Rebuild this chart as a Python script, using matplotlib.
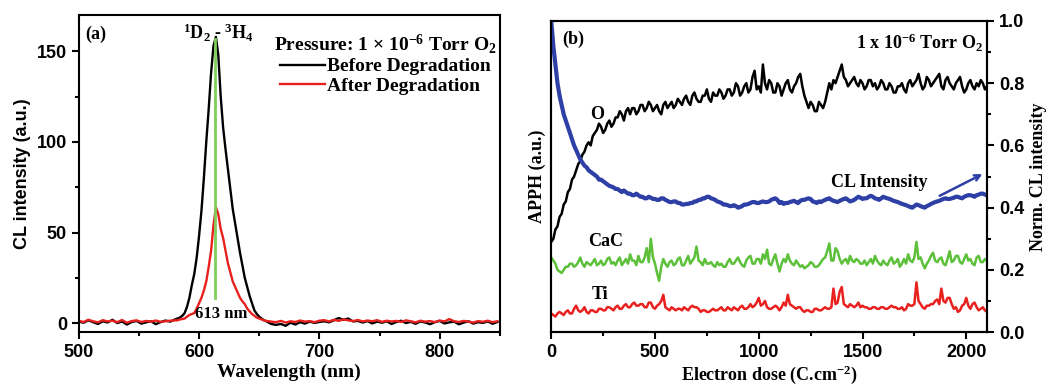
import numpy as np
import matplotlib
matplotlib.use("Agg")
import matplotlib.pyplot as plt
from matplotlib.ticker import MultipleLocator

plt.rcParams['mathtext.fontset'] = 'custom'
plt.rcParams['mathtext.rm'] = 'Liberation Serif:bold'
plt.rcParams['mathtext.it'] = 'Liberation Serif:bold'
plt.rcParams['mathtext.bf'] = 'Liberation Serif:bold'
plt.rcParams['mathtext.default'] = 'rm'

SERIF = 'Liberation Serif'
SANS = 'Liberation Sans'

# ---------------- Panel (a): CL spectra ----------------
wl_low_start, wl_low_step = 500, 4
wl_peak_start, wl_peak_step = 582, 2
wl_high_start, wl_high_step = 664, 4

before_low = [0.8, 0.2, 1.5, 0.5, -0.5, 1.0, 0.3, 1.8, 0.0, 0.9, -0.8, 0.6, 1.2, -0.3,
              0.4, 1.0, -0.6, 0.5, 1.4, 0.8, 2.0]
before_peak = [2.5, 3, 4, 5.5, 9, 14, 21, 27, 36, 48, 62, 80, 100, 118, 138, 153, 158, 148,
               125, 108, 96, 85, 74, 63, 55, 47, 39, 32, 25, 20, 15, 11, 7, 5, 3.5, 2.5, 1.5,
               1.0, 0.2, -0.5]
before_high = [-1.0, -0.5, -1.5, 0.2, -0.8, 0.5, -0.3, 0.8, 0.1, 0.6, 1.0, 0.4, 1.5, 2.8,
               1.8, 2.5, 0.9, 1.2, 0.3, 1.1, -0.2, 0.8, 0.2, 1.0, -0.5, 0.6, 1.3, 0.0, 0.7,
               -0.4, 0.9, 0.3, -0.6, 0.5, 1.2, -0.2, 0.4, 0.8, -0.7, 0.3, 1.0, -0.3, 0.5, 0.1,
               0.9, -0.4, 0.6]

after_low = [1.2, 0.6, 1.8, 1.0, 0.4, 1.6, 0.9, 1.3, 0.5, 1.7, 0.2, 1.1, 1.5, 0.6, 1.2,
             0.8, 1.4, 0.7, 1.0, 1.3, 1.5]
after_peak = [1.5, 2, 2.2, 2.5, 3.5, 4.5, 5, 5.5, 8, 11, 14, 18, 23, 31, 40, 54, 64, 60, 52,
              47, 40, 33, 28, 23, 20, 17, 14, 12, 10.5, 8, 6.5, 5, 4, 3, 2.5, 2, 1.5, 1.2,
              1.0, 0.8]
after_high = [0.5, 1.2, 0.3, 1.0, 0.6, 1.4, 0.8, 1.1, 0.5, 1.3, 1.6, 0.9, 1.8, 1.2, 2.0,
              1.5, 1.1, 1.7, 0.9, 1.4, 1.0, 1.6, 0.7, 1.3, 0.9, 1.2, 0.6, 1.5, 1.0, 0.4,
              1.3, 0.8, 1.1, 0.5, 1.4, 0.9, 2.2, 1.0, 0.6, 1.2, 0.8, 0.3, 1.1, 0.7, 1.3,
              0.5, 1.0]

peak_wl = 613
peak_line_range = [14, 157]

# ---------------- Panel (b): APPH vs dose (0 .. 2100, every 10 C/cm2) ----------------
dose_max = 2100
O_vals = [
    0.29, 0.30, 0.33, 0.34, 0.37, 0.38, 0.41, 0.42, 0.45, 0.46,
    0.49, 0.50, 0.52, 0.54, 0.55, 0.57, 0.58, 0.60, 0.61, 0.60,
    0.63, 0.64, 0.65, 0.67, 0.66, 0.64, 0.65, 0.67, 0.68, 0.66,
    0.67, 0.69, 0.69, 0.71, 0.70, 0.68, 0.71, 0.72, 0.70, 0.72,
    0.72, 0.70, 0.71, 0.73, 0.73, 0.71, 0.72, 0.74, 0.73, 0.71,
    0.72, 0.73, 0.71, 0.70, 0.73, 0.74, 0.72, 0.73, 0.74, 0.72,
    0.73, 0.75, 0.74, 0.73, 0.75, 0.76, 0.74, 0.73, 0.76, 0.77,
    0.75, 0.74, 0.74, 0.76, 0.76, 0.78, 0.75, 0.74, 0.77, 0.76,
    0.76, 0.78, 0.77, 0.75, 0.76, 0.78, 0.78, 0.76, 0.77, 0.80,
    0.79, 0.76, 0.77, 0.79, 0.80, 0.77, 0.78, 0.82, 0.84, 0.78,
    0.79, 0.77, 0.86, 0.80, 0.78, 0.81, 0.80, 0.77, 0.77, 0.80,
    0.79, 0.76, 0.78, 0.80, 0.81, 0.78, 0.77, 0.79, 0.80, 0.82,
    0.83, 0.79, 0.76, 0.74, 0.72, 0.74, 0.73, 0.71, 0.71, 0.74,
    0.73, 0.72, 0.74, 0.77, 0.80, 0.78, 0.81, 0.80, 0.82, 0.84,
    0.86, 0.82, 0.81, 0.79, 0.80, 0.81, 0.82, 0.80, 0.79, 0.81,
    0.80, 0.78, 0.79, 0.81, 0.81, 0.79, 0.80, 0.78, 0.79, 0.81,
    0.80, 0.78, 0.78, 0.80, 0.79, 0.77, 0.77, 0.79, 0.79, 0.80,
    0.78, 0.77, 0.80, 0.81, 0.79, 0.80, 0.81, 0.83, 0.80, 0.78,
    0.79, 0.82, 0.81, 0.79, 0.80, 0.81, 0.82, 0.83, 0.79, 0.78,
    0.81, 0.82, 0.80, 0.79, 0.78, 0.80, 0.81, 0.82, 0.79, 0.77,
    0.78, 0.80, 0.81, 0.79, 0.78, 0.80, 0.79, 0.81, 0.80, 0.78, 0.79]
CL_vals = [
    1.00, 0.92, 0.86, 0.80, 0.76, 0.73, 0.70, 0.68, 0.66, 0.64,
    0.62, 0.60, 0.585, 0.57, 0.555, 0.545, 0.535, 0.53, 0.52, 0.515,
    0.51, 0.505, 0.50, 0.49, 0.49, 0.485, 0.48, 0.475, 0.47, 0.468,
    0.465, 0.46, 0.46, 0.455, 0.45, 0.455, 0.45, 0.445, 0.445, 0.44,
    0.44, 0.445, 0.44, 0.435, 0.435, 0.43, 0.43, 0.435, 0.432, 0.428,
    0.428, 0.425, 0.425, 0.43, 0.43, 0.425, 0.422, 0.418, 0.418, 0.42,
    0.42, 0.415, 0.415, 0.41, 0.41, 0.412, 0.412, 0.415, 0.415, 0.42,
    0.42, 0.425, 0.425, 0.43, 0.43, 0.435, 0.435, 0.43, 0.428, 0.425,
    0.42, 0.418, 0.415, 0.41, 0.41, 0.408, 0.405, 0.405, 0.408, 0.405,
    0.40, 0.402, 0.405, 0.41, 0.41, 0.412, 0.415, 0.418, 0.418, 0.415,
    0.415, 0.418, 0.42, 0.418, 0.418, 0.42, 0.425, 0.428, 0.43, 0.425,
    0.415, 0.418, 0.412, 0.415, 0.415, 0.418, 0.42, 0.422, 0.418, 0.415,
    0.422, 0.425, 0.425, 0.428, 0.43, 0.428, 0.42, 0.418, 0.415, 0.42,
    0.418, 0.422, 0.425, 0.428, 0.43, 0.425, 0.422, 0.42, 0.418, 0.422,
    0.425, 0.428, 0.43, 0.425, 0.42, 0.422, 0.425, 0.43, 0.435, 0.432,
    0.428, 0.43, 0.43, 0.435, 0.438, 0.435, 0.43, 0.428, 0.425, 0.43,
    0.435, 0.432, 0.43, 0.428, 0.425, 0.422, 0.42, 0.418, 0.415, 0.412,
    0.41, 0.408, 0.405, 0.402, 0.40, 0.405, 0.41, 0.408, 0.405, 0.402,
    0.40, 0.405, 0.408, 0.412, 0.415, 0.418, 0.42, 0.422, 0.425, 0.428,
    0.43, 0.428, 0.428, 0.43, 0.432, 0.435, 0.435, 0.432, 0.43, 0.435,
    0.438, 0.44, 0.44, 0.438, 0.435, 0.44, 0.442, 0.445, 0.445, 0.442, 0.44]
CaC_vals = [
    0.24, 0.23, 0.22, 0.20, 0.195, 0.19, 0.20, 0.21, 0.21, 0.22,
    0.22, 0.21, 0.215, 0.225, 0.24, 0.22, 0.21, 0.225, 0.22, 0.215,
    0.225, 0.235, 0.215, 0.22, 0.23, 0.215, 0.22, 0.235, 0.24, 0.22,
    0.225, 0.215, 0.23, 0.24, 0.215, 0.225, 0.235, 0.22, 0.25, 0.23,
    0.23, 0.215, 0.245, 0.225, 0.225, 0.24, 0.27, 0.225, 0.30, 0.24,
    0.22, 0.19, 0.165, 0.21, 0.235, 0.22, 0.21, 0.225, 0.23, 0.215,
    0.22, 0.235, 0.24, 0.215, 0.215, 0.23, 0.245, 0.22, 0.23, 0.24,
    0.275, 0.23, 0.225, 0.215, 0.235, 0.22, 0.22, 0.225, 0.215, 0.21,
    0.225, 0.215, 0.22, 0.21, 0.21, 0.225, 0.235, 0.22, 0.22, 0.23,
    0.24, 0.225, 0.215, 0.21, 0.23, 0.24, 0.245, 0.22, 0.22, 0.235,
    0.235, 0.22, 0.25, 0.235, 0.265, 0.22, 0.215, 0.235, 0.25, 0.22,
    0.195, 0.22, 0.235, 0.225, 0.25, 0.23, 0.22, 0.215, 0.23, 0.22,
    0.21, 0.215, 0.205, 0.21, 0.215, 0.225, 0.22, 0.21, 0.21, 0.215,
    0.225, 0.235, 0.24, 0.26, 0.285, 0.23, 0.23, 0.27, 0.26, 0.235,
    0.22, 0.23, 0.235, 0.22, 0.245, 0.23, 0.225, 0.235, 0.23, 0.22,
    0.22, 0.23, 0.215, 0.225, 0.235, 0.22, 0.245, 0.23, 0.22, 0.215,
    0.23, 0.22, 0.215, 0.23, 0.24, 0.22, 0.225, 0.235, 0.21, 0.22,
    0.235, 0.22, 0.25, 0.23, 0.225, 0.24, 0.29, 0.235, 0.24, 0.22,
    0.205, 0.22, 0.23, 0.245, 0.255, 0.23, 0.225, 0.235, 0.24, 0.22,
    0.215, 0.235, 0.26, 0.225, 0.23, 0.245, 0.245, 0.225, 0.22, 0.235,
    0.25, 0.23, 0.235, 0.22, 0.215, 0.24, 0.245, 0.225, 0.225, 0.235, 0.23]
Ti_vals = [
    0.06, 0.055, 0.05, 0.06, 0.065, 0.06, 0.055, 0.065, 0.07, 0.06,
    0.06, 0.075, 0.085, 0.07, 0.065, 0.07, 0.08, 0.065, 0.06, 0.07,
    0.07, 0.065, 0.065, 0.075, 0.075, 0.07, 0.07, 0.08, 0.08, 0.075,
    0.07, 0.08, 0.085, 0.075, 0.075, 0.085, 0.09, 0.08, 0.08, 0.09,
    0.095, 0.085, 0.085, 0.09, 0.09, 0.08, 0.08, 0.095, 0.095, 0.08,
    0.075, 0.085, 0.09, 0.10, 0.12, 0.08, 0.075, 0.07, 0.08, 0.075,
    0.07, 0.075, 0.075, 0.07, 0.08, 0.075, 0.07, 0.08, 0.085, 0.08,
    0.08, 0.075, 0.065, 0.07, 0.07, 0.065, 0.065, 0.07, 0.075, 0.07,
    0.07, 0.075, 0.08, 0.07, 0.07, 0.08, 0.075, 0.07, 0.08, 0.075,
    0.07, 0.08, 0.085, 0.075, 0.075, 0.08, 0.09, 0.08, 0.085, 0.095,
    0.11, 0.085, 0.09, 0.10, 0.08, 0.075, 0.075, 0.08, 0.085, 0.08,
    0.07, 0.08, 0.095, 0.085, 0.12, 0.09, 0.085, 0.08, 0.075, 0.08,
    0.08, 0.07, 0.065, 0.07, 0.07, 0.065, 0.065, 0.075, 0.075, 0.07,
    0.07, 0.075, 0.08, 0.075, 0.075, 0.08, 0.14, 0.09, 0.095, 0.13,
    0.145, 0.09, 0.085, 0.08, 0.09, 0.085, 0.08, 0.085, 0.095, 0.08,
    0.085, 0.08, 0.08, 0.075, 0.075, 0.08, 0.08, 0.075, 0.075, 0.08,
    0.08, 0.075, 0.075, 0.08, 0.085, 0.08, 0.08, 0.075, 0.075, 0.08,
    0.07, 0.075, 0.09, 0.085, 0.085, 0.09, 0.16, 0.10, 0.09, 0.08,
    0.075, 0.085, 0.085, 0.09, 0.09, 0.10, 0.105, 0.09, 0.14, 0.10,
    0.095, 0.11, 0.11, 0.09, 0.075, 0.08, 0.065, 0.07, 0.085, 0.09,
    0.11, 0.085, 0.075, 0.09, 0.095, 0.08, 0.07, 0.075, 0.08, 0.07, 0.065]


def build_wl(start, step, n):
    return start + step * np.arange(n)


def build_dose(vals):
    return np.linspace(0, dose_max, len(vals))


wl_b = np.concatenate([build_wl(wl_low_start, wl_low_step, len(before_low)),
                       build_wl(wl_peak_start, wl_peak_step, len(before_peak)),
                       build_wl(wl_high_start, wl_high_step, len(before_high))])
I_b = np.array(before_low + before_peak + before_high)
wl_a = np.concatenate([build_wl(wl_low_start, wl_low_step, len(after_low)),
                       build_wl(wl_peak_start, wl_peak_step, len(after_peak)),
                       build_wl(wl_high_start, wl_high_step, len(after_high))])
I_a = np.array(after_low + after_peak + after_high)

fig = plt.figure(figsize=(10.5, 3.88), dpi=100)

# ---- (a)
ax = fig.add_axes([0.075, 0.144, 0.401, 0.817])
ax.plot(wl_b, I_b, color='black', lw=1.7, label='Before Degradation')
ax.plot(wl_a, I_a, color='#e8201e', lw=1.7, label='After Degradation')
ax.plot([peak_wl, peak_wl], peak_line_range, color='#7dcf5a', lw=2)
ax.set_xlim(500, 850)
ax.set_ylim(-5, 170)
ax.xaxis.set_major_locator(MultipleLocator(100))
ax.xaxis.set_minor_locator(MultipleLocator(50))
ax.yaxis.set_major_locator(MultipleLocator(50))
ax.yaxis.set_minor_locator(MultipleLocator(25))
ax.tick_params(which='both', direction='out', width=1.5, top=False, right=False)
ax.tick_params(which='major', length=5)
ax.tick_params(which='minor', length=3)
for lab in ax.get_xticklabels() + ax.get_yticklabels():
    lab.set_fontfamily(SANS)
    lab.set_fontweight('bold')
    lab.set_fontsize(13)
for s in ax.spines.values():
    s.set_linewidth(1.5)
ax.set_xlabel('Wavelength (nm)', fontfamily=SERIF, fontweight='bold', fontsize=14, labelpad=2)
ax.set_ylabel('CL intensity (a.u.)', fontfamily=SANS, fontweight='bold', fontsize=13, labelpad=4)
ax.text(0.015, 0.94, '(a)', transform=ax.transAxes, fontfamily=SERIF, fontweight='bold',
        fontsize=13, va='center')
ax.text(616, 160, r'$^1$D$_2$ - $^3$H$_4$', fontfamily=SERIF, fontweight='bold', fontsize=13,
        ha='center', va='center')
ax.text(peak_wl + 5, 5, '613 nm', fontfamily=SERIF, fontweight='bold', fontsize=12,
        ha='center', va='center')
leg = ax.legend(loc='upper right', bbox_to_anchor=(1.025, 0.99), frameon=False,
                title='Pressure: 1 × 10$^{-6}$ Torr O$_2$',
                prop={'family': SERIF, 'weight': 'bold', 'size': 14},
                handlelength=2.3, handletextpad=0.1, labelspacing=0.1, borderpad=0.2)
leg.get_title().set_fontfamily(SERIF)
leg.get_title().set_fontweight('bold')
leg.get_title().set_fontsize(14)

# ---- (b)
bx = fig.add_axes([0.525, 0.144, 0.415, 0.802])
bx.plot(build_dose(O_vals), O_vals, color='black', lw=1.8)
bx.plot(build_dose(CaC_vals), CaC_vals, color='#5cc03a', lw=1.8)
bx.plot(build_dose(Ti_vals), Ti_vals, color='#e8201e', lw=1.8)
bx.set_xlim(0, 2100)
bx.set_ylim(0, 1)
bx.set_ylabel('APPH (a.u.)', fontfamily=SERIF, fontweight='bold', fontsize=13, labelpad=4)
bx.xaxis.set_major_locator(MultipleLocator(500))
bx.xaxis.set_minor_locator(MultipleLocator(250))
bx.set_xlabel('Electron dose (C.cm$^{-2}$)', fontfamily=SERIF, fontweight='bold', fontsize=13,
              labelpad=2)

bx2 = bx.twinx()
bx2.plot(build_dose(CL_vals), CL_vals, color='#2e3fa6', lw=3.0)
bx2.set_ylim(0, 1)
bx2.yaxis.set_major_locator(MultipleLocator(0.2))
bx2.yaxis.set_minor_locator(MultipleLocator(0.1))
bx2.tick_params(which='both', direction='out', width=1.5)
bx2.tick_params(which='major', length=5)
bx2.tick_params(which='minor', length=3)
bx2.set_ylabel('Norm. CL intensity', fontfamily=SERIF, fontweight='bold', fontsize=13,
               labelpad=4)

bx.tick_params(axis='y', which='both', left=False, right=False, labelleft=False,
               labelright=False)
bx.tick_params(axis='x', which='both', direction='out', width=1.5, top=False)
bx.tick_params(axis='x', which='major', length=5)
bx.tick_params(axis='x', which='minor', length=3)

for a in (bx, bx2):
    for s in a.spines.values():
        s.set_linewidth(1.5)
for lab in bx.get_xticklabels() + bx2.get_yticklabels():
    lab.set_fontfamily(SANS)
    lab.set_fontweight('bold')
    lab.set_fontsize(13)

bx2.text(0.025, 0.94, '(b)', transform=bx2.transAxes, fontfamily=SERIF, fontweight='bold',
         fontsize=13, va='center')
bx2.text(0.99, 0.93, '1 x 10$^{-6}$ Torr O$_2$', transform=bx2.transAxes, fontfamily=SERIF,
         fontweight='bold', fontsize=13, ha='right', va='center')
bx2.text(221, 0.70, 'O', fontfamily=SERIF, fontweight='bold', fontsize=13, ha='center', va='center')
bx2.text(1580, 0.48, 'CL Intensity', fontfamily=SERIF, fontweight='bold', fontsize=13,
         ha='center', va='center')
bx2.annotate('', xy=(2090, 0.512), xytext=(1860, 0.434),
             arrowprops=dict(arrowstyle='->', color='#2e3fa6', lw=1.8))
bx2.text(260, 0.29, 'CaC', fontfamily=SERIF, fontweight='bold', fontsize=13, ha='center',
         va='center')
bx2.text(235, 0.12, 'Ti', fontfamily=SERIF, fontweight='bold', fontsize=13, ha='center',
         va='center')

fig.savefig('out.png', dpi=100)
